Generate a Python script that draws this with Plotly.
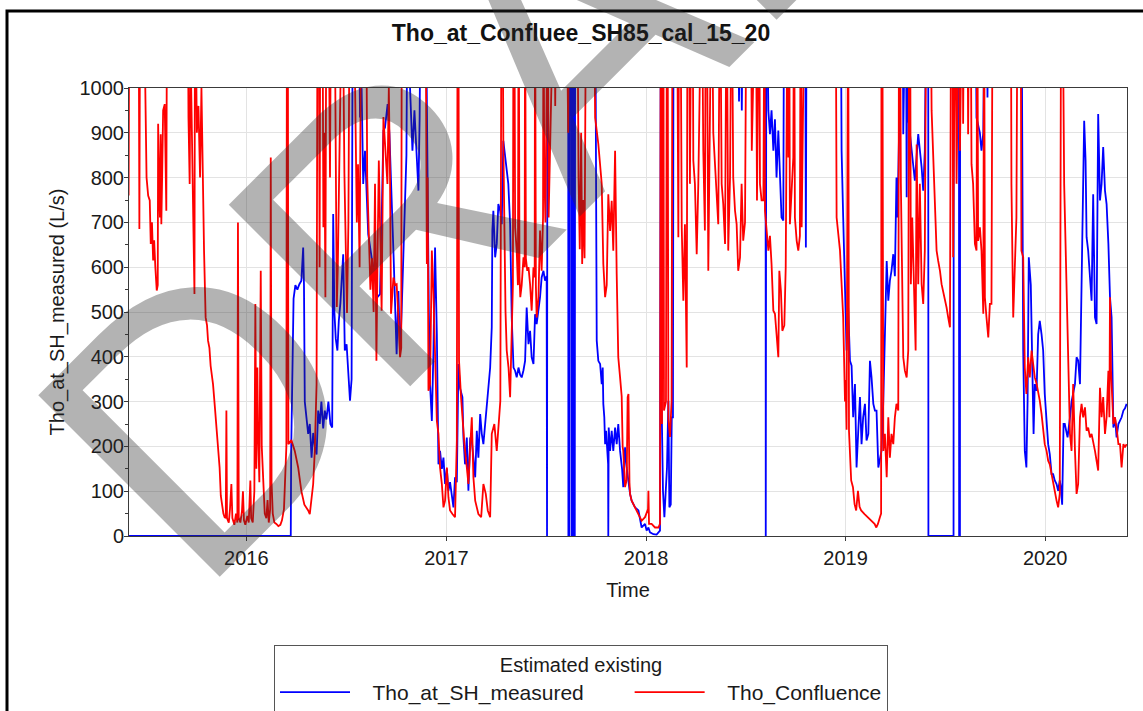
import plotly.graph_objects as go
import pandas as pd

# ---- data (time in decimal years, flow in L/s; values > 1000 run off the top of the chart) ----
red_t = [2015.410, 2015.414, 2015.460, 2015.464, 2015.468, 2015.484, 2015.500, 2015.508, 2015.516, 2015.521,
         2015.527, 2015.533, 2015.538, 2015.544, 2015.551, 2015.556, 2015.558, 2015.563, 2015.567, 2015.571,
         2015.574, 2015.578, 2015.583, 2015.591, 2015.596, 2015.599, 2015.603, 2015.706, 2015.710, 2015.716,
         2015.720, 2015.728, 2015.734, 2015.740, 2015.743, 2015.752, 2015.760, 2015.768, 2015.775, 2015.782,
         2015.788, 2015.796, 2015.803, 2015.808, 2015.815, 2015.821, 2015.833, 2015.842, 2015.850, 2015.858,
         2015.866, 2015.872, 2015.878, 2015.885, 2015.891, 2015.897, 2015.900, 2015.903, 2015.912, 2015.918,
         2015.925, 2015.930, 2015.940, 2015.948, 2015.955, 2015.958, 2015.962, 2015.970, 2015.978, 2015.983,
         2015.988, 2015.995, 2016.005, 2016.012, 2016.020, 2016.024, 2016.032, 2016.040, 2016.045, 2016.050,
         2016.055, 2016.058, 2016.065, 2016.072, 2016.077, 2016.085, 2016.092, 2016.100, 2016.106, 2016.112,
         2016.119, 2016.122, 2016.126, 2016.132, 2016.140, 2016.150, 2016.160, 2016.170, 2016.178, 2016.188,
         2016.195, 2016.200, 2016.203, 2016.207, 2016.210, 2016.225, 2016.242, 2016.259, 2016.275, 2016.290,
         2016.309, 2016.317, 2016.334, 2016.342, 2016.351, 2016.356, 2016.362, 2016.366, 2016.370, 2016.380,
         2016.385, 2016.390, 2016.395, 2016.400, 2016.410, 2016.418, 2016.424, 2016.440, 2016.447, 2016.452,
         2016.457, 2016.462, 2016.468, 2016.480, 2016.490, 2016.497, 2016.503, 2016.510, 2016.517, 2016.535,
         2016.545, 2016.552, 2016.558, 2016.566, 2016.575, 2016.598, 2016.604, 2016.612, 2016.620, 2016.628,
         2016.636, 2016.643, 2016.650, 2016.655, 2016.662, 2016.668, 2016.676, 2016.685, 2016.695, 2016.705,
         2016.712, 2016.718, 2016.723, 2016.735, 2016.743, 2016.751, 2016.760, 2016.768, 2016.774, 2016.777,
         2016.895, 2016.900, 2016.902, 2016.906, 2016.910, 2016.918, 2016.927, 2016.935, 2016.943, 2016.952,
         2016.960, 2016.968, 2016.977, 2016.985, 2016.993, 2017.002, 2017.010, 2017.018, 2017.030, 2017.043,
         2017.052, 2017.056, 2017.060, 2017.063, 2017.073, 2017.080, 2017.090, 2017.102, 2017.110, 2017.118,
         2017.127, 2017.135, 2017.144, 2017.160, 2017.174, 2017.185, 2017.197, 2017.207, 2017.219, 2017.227,
         2017.240, 2017.252, 2017.264, 2017.270, 2017.276, 2017.281, 2017.285, 2017.290, 2017.296, 2017.302,
         2017.311, 2017.319, 2017.327, 2017.333, 2017.336, 2017.340, 2017.344, 2017.352, 2017.358, 2017.362,
         2017.366, 2017.370, 2017.377, 2017.386, 2017.392, 2017.394, 2017.398, 2017.405, 2017.411, 2017.419,
         2017.427, 2017.436, 2017.442, 2017.444, 2017.448, 2017.452, 2017.461, 2017.469, 2017.477, 2017.484,
         2017.486, 2017.490, 2017.496, 2017.500, 2017.508, 2017.512, 2017.518, 2017.525, 2017.540, 2017.545,
         2017.550, 2017.600, 2017.610, 2017.615, 2017.655, 2017.662, 2017.668, 2017.675, 2017.680, 2017.686,
         2017.692, 2017.700, 2017.738, 2017.745, 2017.761, 2017.778, 2017.786, 2017.795, 2017.803, 2017.811,
         2017.820, 2017.828, 2017.836, 2017.845, 2017.853, 2017.861, 2017.870, 2017.878, 2017.883, 2017.886,
         2017.895, 2017.903, 2017.908, 2017.912, 2017.917, 2017.920, 2017.928, 2017.945, 2017.962, 2017.978,
         2017.995, 2018.010, 2018.012, 2018.015, 2018.028, 2018.045, 2018.062, 2018.070, 2018.074, 2018.077,
         2018.080, 2018.084, 2018.087, 2018.090, 2018.100, 2018.105, 2018.108, 2018.112, 2018.120, 2018.128,
         2018.133, 2018.155, 2018.162, 2018.166, 2018.172, 2018.179, 2018.187, 2018.195, 2018.204, 2018.208,
         2018.215, 2018.220, 2018.228, 2018.233, 2018.237, 2018.245, 2018.254, 2018.262, 2018.270, 2018.279,
         2018.287, 2018.295, 2018.300, 2018.304, 2018.312, 2018.321, 2018.329, 2018.337, 2018.346, 2018.354,
         2018.362, 2018.371, 2018.379, 2018.387, 2018.396, 2018.404, 2018.412, 2018.421, 2018.429, 2018.437,
         2018.446, 2018.454, 2018.462, 2018.471, 2018.479, 2018.487, 2018.496, 2018.504, 2018.525, 2018.530,
         2018.538, 2018.550, 2018.556, 2018.562, 2018.567, 2018.571, 2018.579, 2018.588, 2018.592, 2018.594,
         2018.596, 2018.604, 2018.613, 2018.621, 2018.629, 2018.638, 2018.646, 2018.654, 2018.663, 2018.668,
         2018.676, 2018.683, 2018.693, 2018.700, 2018.705, 2018.710, 2018.713, 2018.717, 2018.721, 2018.730,
         2018.738, 2018.742, 2018.746, 2018.755, 2018.763, 2018.771, 2018.775, 2018.780, 2018.788, 2018.796,
         2018.950, 2018.955, 2018.972, 2018.988, 2018.997, 2019.000, 2019.005, 2019.010, 2019.013, 2019.017,
         2019.022, 2019.028, 2019.037, 2019.045, 2019.053, 2019.062, 2019.070, 2019.078, 2019.095, 2019.112,
         2019.129, 2019.145, 2019.154, 2019.162, 2019.172, 2019.178, 2019.180, 2019.184, 2019.189, 2019.197,
         2019.206, 2019.214, 2019.222, 2019.230, 2019.239, 2019.247, 2019.255, 2019.264, 2019.268, 2019.272,
         2019.277, 2019.289, 2019.297, 2019.306, 2019.314, 2019.319, 2019.323, 2019.327, 2019.334, 2019.344,
         2019.351, 2019.356, 2019.364, 2019.372, 2019.381, 2019.389, 2019.397, 2019.405, 2019.425, 2019.431,
         2019.439, 2019.448, 2019.456, 2019.464, 2019.473, 2019.481, 2019.489, 2019.497, 2019.506, 2019.514,
         2019.523, 2019.529, 2019.535, 2019.539, 2019.544, 2019.550, 2019.556, 2019.561, 2019.570, 2019.573,
         2019.578, 2019.586, 2019.589, 2019.594, 2019.610, 2019.614, 2019.620, 2019.626, 2019.631, 2019.639,
         2019.648, 2019.656, 2019.660, 2019.664, 2019.673, 2019.681, 2019.690, 2019.694, 2019.698, 2019.706,
         2019.715, 2019.723, 2019.731, 2019.737, 2019.828, 2019.831, 2019.835, 2019.840, 2019.848, 2019.856,
         2019.862, 2019.877, 2019.881, 2019.890, 2019.898, 2019.906, 2019.915, 2019.923, 2019.932, 2019.940,
         2019.948, 2019.957, 2019.965, 2019.973, 2019.982, 2019.990, 2019.998, 2020.007, 2020.015, 2020.023,
         2020.032, 2020.040, 2020.048, 2020.057, 2020.065, 2020.073, 2020.080, 2020.086, 2020.095, 2020.102,
         2020.107, 2020.115, 2020.124, 2020.132, 2020.140, 2020.149, 2020.157, 2020.165, 2020.174, 2020.182,
         2020.190, 2020.199, 2020.207, 2020.215, 2020.224, 2020.232, 2020.240, 2020.249, 2020.257, 2020.265,
         2020.274, 2020.282, 2020.290, 2020.299, 2020.307, 2020.316, 2020.321, 2020.324, 2020.329, 2020.336,
         2020.341, 2020.349, 2020.357, 2020.366, 2020.374, 2020.382, 2020.391, 2020.399, 2020.407]
red_v = [760, 1300, 1300, 685, 1300, 1300, 800, 760, 749, 652,
         700, 615, 660, 600, 548, 560, 920, 780, 711, 897,
         696, 800, 950, 964, 850, 726, 1300, 1300, 934, 786,
         1100, 850, 620, 540, 1300, 900, 960, 800, 1000, 790,
         637, 488, 470, 436, 420, 380, 339, 290, 250, 200,
         153, 90, 64, 50, 42, 40, 280, 40, 30, 60,
         116, 40, 25, 50, 30, 700, 40, 30, 55, 100,
         35, 25, 45, 30, 124, 40, 30, 100, 518, 150,
         376, 250, 120, 592, 200, 100, 50, 40, 80, 30,
         60, 845, 120, 50, 30, 27, 22, 25, 35, 60,
         150, 200, 1300, 1300, 205, 214, 190, 153, 100, 70,
         57, 49, 116, 190, 339, 1300, 1300, 600, 1300, 1300,
         689, 900, 533, 1300, 1300, 800, 1300, 1300, 700, 511,
         600, 860, 1300, 1300, 810, 600, 498, 700, 1300, 1300,
         850, 700, 830, 600, 1300, 1300, 800, 652, 550, 620,
         500, 786, 391, 600, 838, 700, 503, 935, 850, 786,
         1000, 800, 496, 577, 560, 562, 488, 399, 420, 1300,
         1300, 900, 607, 800, 324, 339, 637, 540, 391, 257,
         228, 153, 116, 64, 79, 153, 86, 57, 49, 42,
         213, 1300, 1300, 391, 310, 265, 205, 153, 116, 190,
         265, 131, 79, 49, 42, 116, 94, 57, 42, 228,
         250, 190, 257, 302, 1300, 1300, 875, 650, 500, 414,
         376, 310, 429, 562, 1300, 1300, 689, 637, 560, 1300,
         580, 533, 560, 622, 600, 1300, 620, 592, 600, 562,
         503, 600, 577, 1300, 560, 488, 533, 682, 592, 711,
         1300, 823, 700, 1300, 1300, 711, 900, 1300, 1300, 960,
         1300, 1300, 900, 1300, 1300, 800, 640, 900, 607, 750,
         620, 1300, 1300, 934, 875, 786, 607, 533, 560, 763,
         681, 748, 637, 860, 585, 399, 354, 312, 199, 190,
         109, 125, 310, 317, 120, 94, 79, 64, 49, 34,
         42, 60, 101, 27, 27, 19, 19, 27, 1300, 1300,
         250, 1300, 1300, 280, 300, 1300, 1300, 260, 221, 300,
         1300, 1300, 667, 1300, 1300, 689, 525, 696, 376, 1300,
         1300, 786, 1300, 1300, 838, 786, 629, 786, 920, 1300,
         860, 682, 1300, 1300, 592, 860, 1300, 900, 823, 749,
         696, 1300, 786, 741, 652, 1300, 637, 800, 1300, 800,
         726, 696, 592, 622, 786, 659, 700, 1300, 1300, 860,
         1300, 1300, 749, 1300, 1300, 786, 749, 749, 1300, 1300,
         726, 682, 637, 670, 607, 503, 496, 451, 399, 592,
         547, 458, 470, 600, 1300, 1300, 845, 1300, 696, 786,
         845, 1300, 711, 659, 637, 670, 1300, 689, 860, 1300,
         1300, 711, 637, 488, 300, 348, 237, 1300, 1300, 235,
         192, 124, 109, 71, 57, 101, 65, 57, 49, 42,
         35, 27, 19, 27, 42, 50, 1300, 1300, 190, 228,
         131, 265, 175, 228, 205, 265, 295, 280, 1300, 1300,
         786, 399, 369, 354, 414, 1300, 1300, 562, 711, 488,
         414, 874, 562, 786, 562, 518, 637, 1300, 1300, 950,
         860, 749, 637, 614, 592, 562, 547, 525, 510, 488,
         466, 1300, 1300, 622, 1300, 1300, 786, 1300, 1300, 860,
         1300, 1300, 920, 1300, 1300, 897, 1300, 1300, 830, 786,
         652, 637, 1300, 659, 689, 637, 496, 1300, 533, 488,
         443, 518, 518, 1300, 1300, 786, 622, 488, 600, 711,
         1300, 1300, 637, 622, 376, 317, 399, 354, 414, 384,
         354, 340, 324, 302, 272, 242, 205, 190, 168, 160,
         138, 116, 94, 79, 64, 94, 1300, 1300, 786, 637,
         525, 414, 228, 190, 339, 190, 94, 116, 265, 295,
         265, 287, 235, 242, 220, 228, 213, 190, 168, 146,
         331, 265, 310, 228, 265, 369, 265, 533, 370, 302,
         250, 265, 242, 205, 205, 153, 205, 198, 205]

blue_t = [2015.410, 2016.222, 2016.224, 2016.230, 2016.236, 2016.245, 2016.255, 2016.265, 2016.275, 2016.284,
          2016.288, 2016.292, 2016.300, 2016.309, 2016.317, 2016.326, 2016.334, 2016.342, 2016.351, 2016.359,
          2016.367, 2016.375, 2016.384, 2016.392, 2016.400, 2016.410, 2016.420, 2016.429, 2016.434, 2016.440,
          2016.447, 2016.455, 2016.462, 2016.470, 2016.484, 2016.492, 2016.501, 2016.510, 2016.518, 2016.526,
          2016.532, 2016.560, 2016.568, 2016.574, 2016.584, 2016.593, 2016.609, 2016.626, 2016.643, 2016.655,
          2016.668, 2016.676, 2016.685, 2016.693, 2016.706, 2016.715, 2016.720, 2016.728, 2016.736, 2016.743,
          2016.751, 2016.760, 2016.768, 2016.776, 2016.790, 2016.800, 2016.806, 2016.818, 2016.830, 2016.840,
          2016.850, 2016.860, 2016.866, 2016.872, 2016.895, 2016.905, 2016.912, 2016.918, 2016.927, 2016.935,
          2016.943, 2016.952, 2016.960, 2016.968, 2016.977, 2016.985, 2016.993, 2017.002, 2017.010, 2017.018,
          2017.027, 2017.035, 2017.043, 2017.052, 2017.060, 2017.068, 2017.080, 2017.085, 2017.093, 2017.102,
          2017.110, 2017.119, 2017.127, 2017.135, 2017.144, 2017.152, 2017.160, 2017.169, 2017.177, 2017.185,
          2017.194, 2017.202, 2017.210, 2017.219, 2017.227, 2017.230, 2017.235, 2017.244, 2017.252, 2017.260,
          2017.269, 2017.277, 2017.285, 2017.294, 2017.302, 2017.310, 2017.319, 2017.327, 2017.336, 2017.344,
          2017.352, 2017.361, 2017.369, 2017.377, 2017.386, 2017.394, 2017.402, 2017.411, 2017.419, 2017.427,
          2017.436, 2017.444, 2017.452, 2017.461, 2017.469, 2017.477, 2017.486, 2017.494, 2017.502, 2017.504,
          2017.506, 2017.610, 2017.611, 2017.613, 2017.615, 2017.618, 2017.626, 2017.627, 2017.630, 2017.632,
          2017.635, 2017.638, 2017.641, 2017.643, 2017.645, 2017.745, 2017.750, 2017.753, 2017.761, 2017.770,
          2017.778, 2017.783, 2017.786, 2017.791, 2017.795, 2017.800, 2017.806, 2017.810, 2017.811, 2017.813,
          2017.820, 2017.828, 2017.836, 2017.845, 2017.853, 2017.861, 2017.870, 2017.880, 2017.886, 2017.895,
          2017.903, 2017.912, 2017.920, 2017.928, 2017.945, 2017.962, 2017.978, 2017.995, 2018.003, 2018.012,
          2018.020, 2018.037, 2018.053, 2018.070, 2018.074, 2018.078, 2018.085, 2018.092, 2018.098, 2018.105,
          2018.112, 2018.117, 2018.124, 2018.129, 2018.135, 2018.138, 2018.460, 2018.466, 2018.472, 2018.480,
          2018.487, 2018.599, 2018.600, 2018.603, 2018.613, 2018.621, 2018.629, 2018.638, 2018.646, 2018.654,
          2018.663, 2018.671, 2018.679, 2018.688, 2018.692, 2018.797, 2018.801, 2018.805, 2018.975, 2018.980,
          2018.988, 2018.997, 2019.005, 2019.013, 2019.022, 2019.030, 2019.038, 2019.047, 2019.055, 2019.063,
          2019.072, 2019.080, 2019.088, 2019.097, 2019.105, 2019.114, 2019.122, 2019.130, 2019.139, 2019.147,
          2019.155, 2019.164, 2019.180, 2019.189, 2019.197, 2019.206, 2019.214, 2019.222, 2019.230, 2019.239,
          2019.247, 2019.255, 2019.260, 2019.267, 2019.272, 2019.285, 2019.289, 2019.293, 2019.302, 2019.306,
          2019.310, 2019.314, 2019.331, 2019.347, 2019.364, 2019.381, 2019.389, 2019.397, 2019.406, 2019.414,
          2019.415, 2019.541, 2019.542, 2019.568, 2019.569, 2019.573, 2019.574, 2019.650, 2019.656, 2019.673,
          2019.681, 2019.690, 2019.698, 2019.706, 2019.711, 2019.716, 2019.881, 2019.886, 2019.890, 2019.898,
          2019.906, 2019.912, 2019.918, 2019.928, 2019.935, 2019.942, 2019.948, 2019.957, 2019.965, 2019.973,
          2019.982, 2019.990, 2019.998, 2020.007, 2020.015, 2020.023, 2020.032, 2020.040, 2020.048, 2020.057,
          2020.065, 2020.073, 2020.078, 2020.085, 2020.092, 2020.098, 2020.112, 2020.124, 2020.132, 2020.149,
          2020.157, 2020.165, 2020.174, 2020.182, 2020.190, 2020.195, 2020.202, 2020.207, 2020.215, 2020.224,
          2020.232, 2020.240, 2020.249, 2020.257, 2020.265, 2020.274, 2020.282, 2020.290, 2020.299, 2020.307,
          2020.316, 2020.324, 2020.332, 2020.341, 2020.349, 2020.357, 2020.366, 2020.382, 2020.391, 2020.399,
          2020.407]
blue_v = [0, 0, 190, 339, 530, 560, 550, 562, 570, 644,
          560, 300, 265, 228, 250, 175, 230, 200, 182, 280,
          250, 300, 240, 280, 260, 300, 250, 242, 719, 500,
          440, 414, 480, 520, 629, 414, 428, 350, 302, 350,
          1300, 1300, 934, 1050, 786, 860, 674, 622, 577, 533,
          540, 700, 905, 912, 964, 897, 815, 726, 622, 488,
          406, 547, 406, 500, 700, 850, 1300, 1000, 860, 950,
          860, 771, 934, 1300, 1300, 700, 500, 339, 257, 414,
          644, 451, 160, 190, 150, 175, 116, 150, 101, 120,
          86, 64, 131, 120, 384, 330, 310, 220, 160, 220,
          101, 220, 213, 168, 131, 235, 175, 272, 228, 205,
          250, 302, 339, 376, 466, 682, 726, 622, 652, 741,
          726, 696, 882, 845, 815, 786, 696, 488, 376, 369,
          354, 376, 360, 354, 370, 391, 510, 428, 458, 399,
          384, 495, 473, 503, 533, 577, 592, 570, 580, 0,
          1300, 1300, 0, 1300, 0, 1300, 1300, 0, 1300, 0,
          1300, 0, 1300, 0, 1300, 1300, 600, 436, 391, 384,
          339, 376, 295, 265, 205, 235, 190, 160, 0, 242,
          190, 235, 190, 242, 205, 250, 190, 150, 109, 198,
          153, 116, 94, 79, 64, 57, 19, 27, 12, 19,
          8, 4, 3, 12, 1300, 300, 100, 42, 86, 153,
          302, 64, 70, 265, 265, 1300, 1300, 970, 1300, 950,
          1300, 1300, 0, 1300, 950, 897, 950, 860, 930, 800,
          905, 786, 711, 704, 1300, 1300, 644, 1300, 1300, 860,
          711, 562, 414, 510, 391, 380, 265, 339, 153, 230,
          310, 205, 265, 295, 213, 228, 391, 354, 295, 280,
          280, 153, 190, 302, 428, 614, 525, 570, 592, 629,
          580, 800, 711, 971, 1300, 1300, 897, 1300, 1300, 756,
          1300, 934, 860, 793, 897, 823, 771, 860, 1300, 1300,
          0, 0, 1300, 1300, 0, 0, 1300, 1300, 934, 900,
          860, 900, 1300, 1300, 979, 1300, 1300, 600, 414, 190,
          153, 302, 622, 560, 376, 228, 339, 324, 450, 480,
          450, 414, 317, 265, 205, 183, 138, 138, 124, 116,
          101, 124, 110, 70, 250, 250, 220, 265, 300, 339,
          399, 392, 339, 562, 860, 927, 838, 667, 637, 562,
          525, 763, 488, 473, 942, 749, 786, 868, 771, 741,
          652, 533, 488, 242, 265, 220, 250, 265, 280, 285,
          295]

series_names = ["Tho_at_SH_measured", "Tho_Confluence"]
series_colors = ["#0000ff", "#ff0000"]
chart_title = "Tho_at_Confluee_SH85_cal_15_20"
x_title = "Time"
y_title = "Tho_at_SH_measured (L/s)"
legend_title = "Estimated existing"
x_range_years = [2015.412, 2020.409]
y_range = [0, 1000]
watermark = "DRAFT"


def to_dt(y):
    yr = int(y)
    start = pd.Timestamp(year=yr, month=1, day=1)
    end = pd.Timestamp(year=yr + 1, month=1, day=1)
    return start + (end - start) * (y - yr)


FONT = "Liberation Sans, Arial, sans-serif"
NB = "\u00a0"

# legend label spacing (visual padding only)
legend_labels = [NB * 3 + series_names[0] + NB * 7, NB * 3 + series_names[1]]

fig = go.Figure()
for name, label, color, ts, vs in [(series_names[0], legend_labels[0], series_colors[0], blue_t, blue_v),
                                   (series_names[1], legend_labels[1], series_colors[1], red_t, red_v)]:
    fig.add_trace(go.Scatter(
        x=[to_dt(t) for t in ts], y=vs, mode="lines", name=label,
        hovertemplate=name + "<br>%{x|%Y-%m-%d}: %{y} L/s<extra></extra>",
        line=dict(color=color, width=1.8), cliponaxis=True))

# plot area in pixels: left 129, right 1127, top 88, bottom 536
L, R, T, B = 129, 1127, 88, 536
W, H = 1143, 711


def px_x(p):
    return (p - L) / (R - L)


def px_y(p):
    return (B - p) / (B - T)


fig.update_layout(
    width=W, height=H,
    margin=dict(l=L, r=W - R, t=T, b=H - B, autoexpand=False),
    paper_bgcolor="white", plot_bgcolor="white",
    font=dict(family=FONT, size=20, color="#1a1a1a"),
    title=dict(text="<b>" + chart_title + "</b>", x=581 / W, xref="container", xanchor="center",
               y=1 - 33 / H, yref="container", yanchor="middle",
               font=dict(family=FONT, size=23, color="#111")),
    xaxis=dict(type="date", range=[to_dt(x_range_years[0]), to_dt(x_range_years[1])],
               tick0="2016-01-01", dtick="M12", tickformat="%Y",
               showgrid=True, gridcolor="#e3e3e3", gridwidth=1,
               showline=True, linecolor="#3a3a3a", linewidth=1, mirror=True,
               ticks="outside", ticklen=4, tickcolor="#3a3a3a",
               tickfont=dict(size=20, color="#1a1a1a"),
               title=dict(text=x_title, font=dict(size=20, color="#1a1a1a"), standoff=14),
               zeroline=False),
    yaxis=dict(range=y_range, dtick=100, tick0=0,
               showgrid=True, gridcolor="#e3e3e3", gridwidth=1,
               showline=True, linecolor="#3a3a3a", linewidth=1, mirror=True,
               ticks="outside", ticklen=4, tickcolor="#3a3a3a", ticklabelstandoff=-4,
               minor=dict(dtick=50, ticks="outside", ticklen=3, tickcolor="#3a3a3a", showgrid=False),
               tickfont=dict(size=20, color="#1a1a1a"),
               title=dict(text=y_title, font=dict(size=20, color="#1a1a1a"), standoff=9),
               zeroline=False),
    showlegend=True,
    legend=dict(orientation="h", x=px_x(274), y=px_y(645), xanchor="left", yanchor="top",
                xref="paper", yref="paper",
                title=dict(text=legend_title, side="top center", font=dict(size=20, color="#1a1a1a")),
                font=dict(size=21, color="#1a1a1a"),
                bordercolor="#555555", borderwidth=1, bgcolor="white",
                itemwidth=70, traceorder="normal"),
)

# outer frame of the exported figure (thick black border, runs off the right and bottom edges)
fig.add_shape(type="rect", xref="paper", yref="paper",
              x0=px_x(7), y0=px_y(11), x1=px_x(1180), y1=px_y(760),
              line=dict(color="black", width=3), fillcolor="rgba(0,0,0,0)", layer="above")

# DRAFT watermark
fig.add_annotation(text=watermark, xref="paper", yref="paper", x=px_x(546), y=px_y(68),
                   xanchor="center", yanchor="middle", showarrow=False, textangle=-45,
                   font=dict(family=FONT, size=373, color="rgba(45,45,45,0.36)"))

fig.write_html("out.html")
